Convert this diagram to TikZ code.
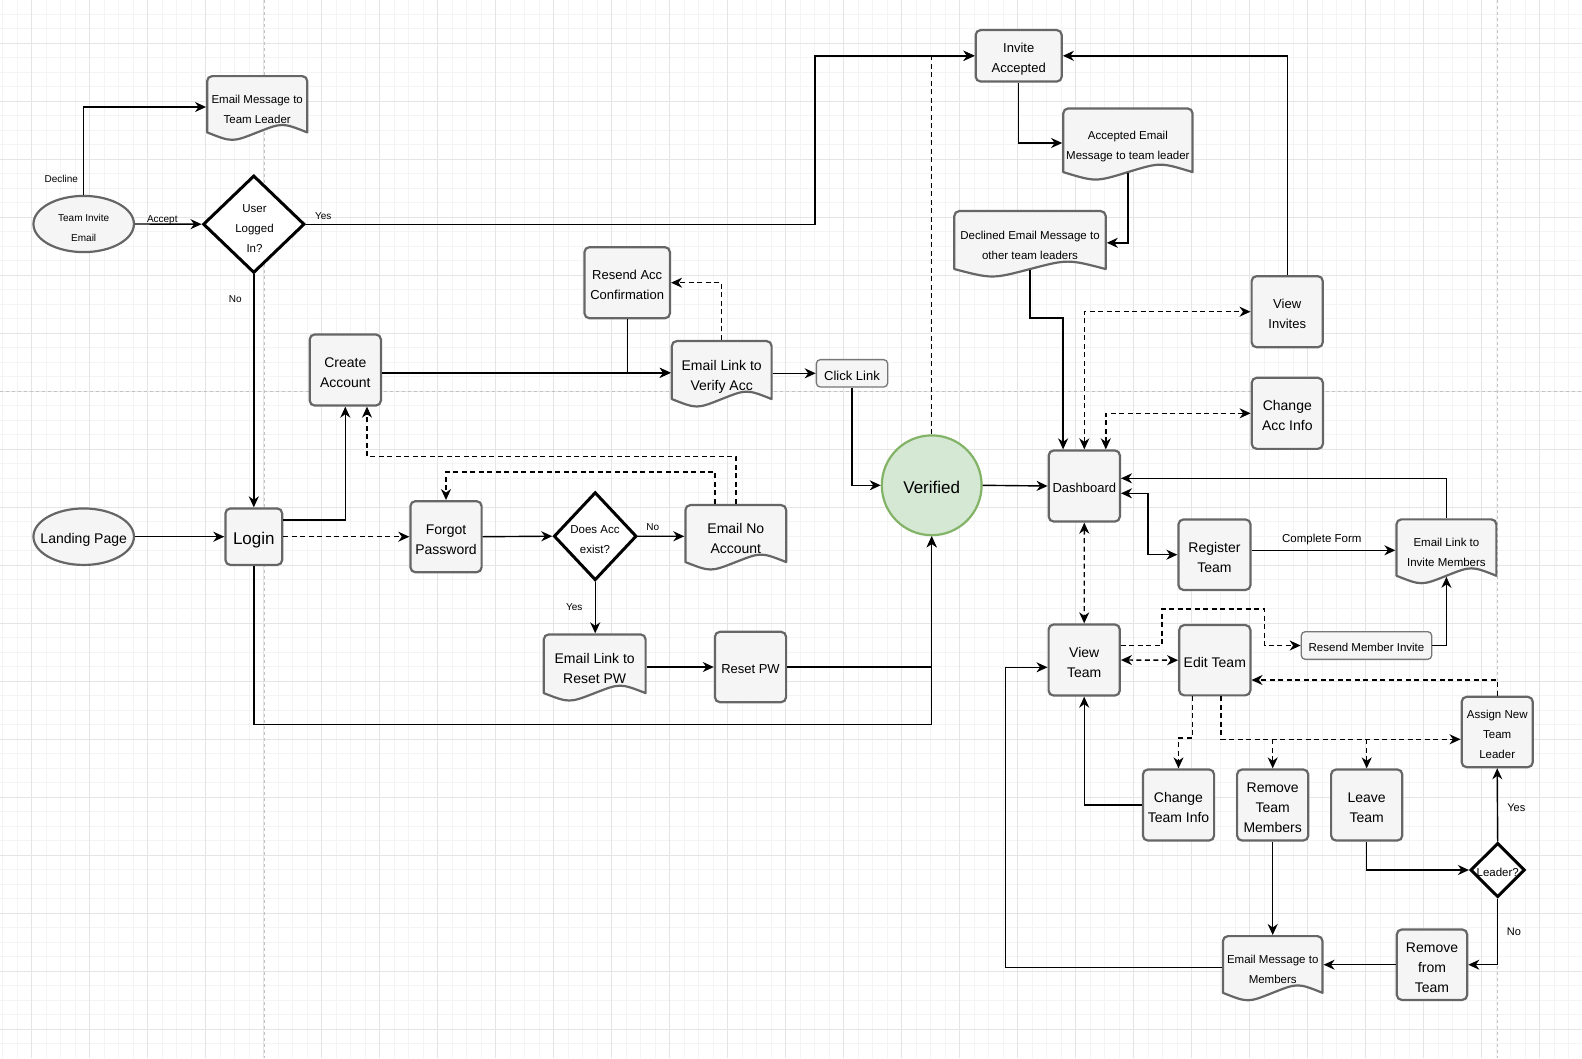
\documentclass[tikz,border=0pt]{standalone}
\usepackage{fontspec}
\setmainfont{Liberation Sans}
\usetikzlibrary{arrows.meta,shapes.geometric,calc}

\pgfdeclarelayer{grid}
\pgfdeclarelayer{shapes}
\pgfsetlayers{grid,shapes,main}

\definecolor{boxfill}{HTML}{F5F5F5}
\definecolor{boxline}{HTML}{666666}
\definecolor{thinline}{HTML}{777777}
\definecolor{okfill}{HTML}{D5E8D4}
\definecolor{okline}{HTML}{82B366}
\definecolor{gridminor}{HTML}{F4F4F4}
\definecolor{gridmajor}{HTML}{E5E5E5}
\definecolor{pagebreak}{HTML}{C2C2C2}

% font size in px with a fixed 20px line pitch
\newcommand\pxfont[1]{\fontsize{#1}{20}\selectfont}

% text block metrics: first-line height, last-line depth, extra lines
\def\vfixH{0pt}
\def\vfixD{0pt}
\def\linesextra{0}

% outline of a document shape: rounded top corners, wavy bottom
\newcommand\docoutline[1]{%
  \path[fill=boxfill, draw=boxline, line width=2.2pt, line join=round]
    let \p1=([xshift=1.1pt,yshift=-1.1pt]#1.north west),
        \p2=([xshift=-1.1pt,yshift=1.1pt]#1.south east) in
    (\x1,\y2+5.5pt) -- (\x1,\y1-5pt)
    .. controls (\x1,\y1-2.24pt) and (\x1+2.24pt,\y1) .. (\x1+5pt,\y1)
    -- (\x2-5pt,\y1)
    .. controls (\x2-2.24pt,\y1) and (\x2,\y1-2.24pt) .. (\x2,\y1-5pt)
    -- (\x2,\y2+5.5pt)
    .. controls ({\x1+0.75*(\x2-\x1)},\y2+15.4pt) .. ({0.5*(\x1+\x2)},\y2+5.5pt)
    .. controls ({\x1+0.25*(\x2-\x1)},\y2-4.4pt) .. (\x1,\y2+5.5pt)
    -- cycle;}

\tikzset{
  >={Stealth[length=11pt,width=10pt,inset=3.5pt]},
  % fixed text block height and depth, so text sits at a set level
  vfix/.style 2 args={/utils/exec={\def\vfixH{#1}\def\vfixD{#2}},
    execute at begin node={\rule{0pt}{\dimexpr\vfixH+\linesextra pt\relax}},
    execute at end node={\rule[-\vfixD]{0pt}{0pt}}},
  lines/.code={\pgfmathsetmacro\linesextra{20*(#1-1)}},
  f115/.style={font={\pxfont{11.5}}, vfix={15pt}{2.5pt}},
  f13/.style={font={\pxfont{13}}, vfix={16.6pt}{2.9pt}},
  f14/.style={font={\pxfont{14}}, vfix={17.7pt}{3.1pt}},
  f17/.style={font={\pxfont{17}}, vfix={18.8pt}{3.7pt}},
  d115/.style={font={\pxfont{11.5}}, vfix={15pt}{2.5pt}},
  d14/.style={font={\pxfont{14}}, vfix={17.5pt}{3.1pt}},
  box/.style={rectangle, rounded corners=5pt, fill=boxfill, draw=boxline,
    line width=2.2pt, inner sep=0pt, align=center, f14, lines=2,
    minimum width=71.2pt, minimum height=71.1pt},
  thinbox/.style={rectangle, rounded corners=4pt, fill=boxfill, draw=thinline,
    line width=1.3pt, inner sep=0pt, align=center, lines=1},
  docnode/.style={rectangle, inner sep=0pt, outer sep=1.1pt, align=center, d115, lines=2},
  ellip/.style={ellipse, fill=boxfill, draw=boxline, line width=2.2pt,
    inner sep=0pt, minimum width=100.5pt, minimum height=56.2pt},
  diam/.style={diamond, fill=white, draw=black, line width=3pt, inner sep=0pt},
  okcircle/.style={circle, fill=okfill, draw=okline, line width=2.2pt,
    minimum size=99.8pt, inner sep=0pt, font={\pxfont{17}}, vfix={19.8pt}{3.7pt}, lines=1},
  txt/.style={inner sep=0pt, align=center},
  lbl/.style={inner sep=0pt, font={\pxfont{10}}},
  conn/.style={line width=1.4pt, ->},
  dashline/.style={dash pattern=on 5pt off 3.5pt},
}

\begin{document}
\begin{tikzpicture}[x=1pt,y=-1pt]
\useasboundingbox (0,0) rectangle (1582,1058);

% ---------- canvas grid ----------
\begin{pgfonlayer}{grid}
  \fill[white] (0,0) rectangle (1582,1058);
  \foreach \i in {0,...,108}
    \draw[gridminor, line width=0.8pt] ({2.7+14.5*\i},0) -- ({2.7+14.5*\i},1058);
  \foreach \i in {0,...,71}
    \draw[gridminor, line width=0.8pt] (0,{14.3+14.5*\i}) -- (1582,{14.3+14.5*\i});
  \foreach \i in {0,...,26}
    \draw[gridmajor, line width=0.9pt] ({31.7+58*\i},0) -- ({31.7+58*\i},1058);
  \foreach \i in {0,...,17}
    \draw[gridmajor, line width=0.9pt] (0,{43.3+58*\i}) -- (1582,{43.3+58*\i});
  \draw[pagebreak, line width=0.9pt, dash pattern=on 3pt off 3pt]
    (264.3,0) -- (264.3,1058)
    (1497.3,0) -- (1497.3,1058)
    (0,391) -- (1582,391);
\end{pgfonlayer}

% ---------- entry points ----------
\node[ellip] (invite) at (83.7,224) {};
\node[txt, font={\pxfont{10}}] (invitetxt) at (83.7,227.5) {Team Invite\\Email};
\node[ellip, minimum height=56.5pt] (landing) at (83.7,536.7) {};
\node[txt, font={\pxfont{14}}] (landingtxt) at (83.7,539.5) {Landing Page};

\node[docnode, minimum width=100.1pt, minimum height=61.8pt] (emtl) at (257.2,107) {Email Message to\\Team Leader};

\node[diam, minimum width=101.5pt, minimum height=97.5pt] (logged) at (253.8,224.2) {};
\node[txt, font={\pxfont{11.5}}] (loggedtxt) at (254.5,228.3) {User\\Logged\\In?};

% ---------- login and account ----------
\node[box, minimum width=56.8pt, minimum height=56.5pt, f17, lines=1] (login) at (253.8,536.7) {Login};
\node[box] (create) at (345.3,370) {Create\\Account};
\node[box] (forgot) at (446,536.7) {Forgot\\Password};
\node[box, minimum width=85.5pt, f13] (resendacc) at (627.2,282.7) {Resend Acc\\Confirmation};
\node[docnode, minimum width=99.8pt, minimum height=63.5pt, d14] (verify) at (721.7,372.8) {Email Link to\\Verify Acc};
\node[thinbox, minimum width=71.3pt, minimum height=27.4pt, f13] (click) at (852,373.3) {Click Link};

\node[diam, minimum width=82.8pt, minimum height=88.1pt] (doesacc) at (595.2,536.2) {};
\node[txt, font={\pxfont{11.5}}] (doesacctxt) at (595,539.8) {Does Acc\\exist?};
\node[docnode, minimum width=100.8pt, minimum height=62.5pt, d14] (noacc) at (735.8,536.3) {Email No\\Account};
\node[docnode, minimum width=101.8pt, minimum height=64.2pt, d14] (resetlink) at (594.7,666.5) {Email Link to\\Reset PW};
\node[box, minimum height=70.4pt, f13, lines=1] (resetpw) at (750.5,667) {Reset PW};

\node[okcircle] (verified) at (931.7,485.3) {Verified};

% ---------- invitations ----------
\node[box, minimum width=86.1pt, minimum height=51.5pt, f13] (invacc) at (1018.7,55.8) {Invite\\Accepted};
\node[docnode, minimum width=129.3pt, minimum height=69.2pt] (accemail) at (1127.9,143) {Accepted Email\\Message to team leader};
\node[docnode, minimum width=151.4pt, minimum height=63.5pt] (declemail) at (1030,242.8) {Declined Email Message to\\other team leaders};
\node[box, f13] (viewinv) at (1287.2,311.7) {View\\Invites};
\node[box] (changeacc) at (1287.3,413.3) {Change\\Acc Info};

% ---------- dashboard and teams ----------
\node[box, f13, lines=1] (dash) at (1084.3,486) {Dashboard};
\node[box, minimum width=72.1pt, minimum height=70.5pt] (regteam) at (1214.5,554.7) {Register\\Team};
\node[docnode, minimum width=99.9pt, minimum height=61.9pt] (invmem) at (1446.4,550.3) {Email Link to\\Invite Members};
\node[box] (viewteam) at (1084.2,660) {View\\Team};
\node[box, minimum height=70.3pt, lines=1] (editteam) at (1214.8,660.2) {Edit Team};
\node[thinbox, minimum width=130.4pt, minimum height=27.7pt, f115] (resendmem) at (1366.5,645.5) {Resend Member Invite};
\node[box, minimum width=71.1pt, minimum height=70.4pt, f115, lines=3] (assign) at (1497.2,732) {Assign New\\Team\\Leader};
\node[box] (changeteam) at (1178.5,805) {Change\\Team Info};
\node[box, lines=3] (removemem) at (1272.7,805) {Remove\\Team\\Members};
\node[box] (leave) at (1366.7,805) {Leave\\Team};
\node[diam, minimum width=54.5pt, minimum height=54.4pt] (leader) at (1497.7,870) {};
\node[txt, font={\pxfont{11.5}}] (leadertxt) at (1497.7,872) {Leader?};
\node[box, minimum width=70.4pt, minimum height=70.5pt, lines=3] (removefrom) at (1432,964.7) {Remove\\from\\Team};
\node[docnode, minimum width=99.6pt, minimum height=62.2pt] (emmem) at (1272.7,967.2) {Email Message to\\Members};

% ---------- document outlines ----------
\begin{pgfonlayer}{shapes}
  \docoutline{emtl}
  \docoutline{verify}
  \docoutline{noacc}
  \docoutline{resetlink}
  \docoutline{accemail}
  \docoutline{declemail}
  \docoutline{invmem}
  \docoutline{emmem}
\end{pgfonlayer}

% ---------- connectors: invitation email ----------
\draw[conn] (invite.east) -- (logged.west);
\draw[conn] (invite.north) |- (emtl.west);
\draw[conn] (logged.east) -| ([xshift=-159.6pt]invacc.west) -- (invacc.west);
\draw[conn] (logged.south) -- (login.north);

% ---------- connectors: login and account ----------
\draw[conn] (landing.east) -- (login.west);
\draw[conn] ([yshift=16.7pt]login.east) -| (create.south);
\draw[conn, dashline] (login.east) -- (forgot.west);
\draw[conn] (login.south) -- ++(0,158.2) -| (verified.south);
\draw[conn] (create.east |- verify.west) -- (verify.west);
\draw[conn] (resendacc.south) |- (verify.west);
\draw[conn, dashline] (verify.north) |- (resendacc.east);
\draw[conn] (verify.east |- click.west) -- (click.west);
\draw[conn] (click.south) |- (verified.west);
\draw[conn, dashline] (verified.north) |- (invacc.west);
\draw[conn] (verified.east) -- (dash.west);

% ---------- connectors: password reset ----------
\draw[conn] (forgot.east) -- (doesacc.west);
\draw[conn] (doesacc.east) -- (noacc.west);
\draw[conn] (doesacc.south) -- (doesacc.south |- resetlink.north);
\draw[conn] (resetlink.east |- resetpw.west) -- (resetpw.west);
\draw[conn] (resetpw.east) -| (verified.south);
\draw[conn, dashline] ([xshift=-20.8pt]noacc.north) -- ++(0,-32) -| (forgot.north);
\draw[conn, dashline] (noacc.north) -- ++(0,-47.2) -| ([xshift=21.7pt]create.south);

% ---------- connectors: invitations ----------
\draw[conn] (invacc.south) |- (accemail.west);
\draw[conn] ([yshift=5.5pt]accemail.south) |- (declemail.east);
\draw[conn] ([yshift=5.5pt]declemail.south) -- ++(0,48) -| ([xshift=-21.2pt]dash.north);
\draw[conn, dashline, <->] (dash.north) |- (viewinv.west);
\draw[conn, dashline, <->] ([xshift=21.5pt]dash.north) |- (changeacc.west);
\draw[conn] (viewinv.north) |- (invacc.east);

% ---------- connectors: teams ----------
\draw[conn] (invmem.north) |- ([yshift=7.7pt]dash.east);
\draw[conn, <->] ([yshift=-7.3pt]dash.east) -- ++(27.1,0) |- (regteam.west);
\draw[conn] (regteam.east |- invmem.west) -- (invmem.west);
\draw[conn, dashline, <->] (dash.south) -- (viewteam.north);
\draw[conn, dashline, <->] (viewteam.east) -- (editteam.west);
\draw[conn, dashline] ([yshift=14.3pt]viewteam.east) -- ++(41.2,0) -- ++(0,-36.7) -- ++(102.4,0) |- (resendmem.west);
\draw[conn] (resendmem.east) -| ([yshift=5.5pt]invmem.south);
\draw[conn, dashline] (assign.north) |- ([yshift=-19.8pt]editteam.east);
\coordinate (busrail) at ([yshift=-7.3pt]assign.west);
\draw[conn, dashline] ([xshift=-22.5pt]editteam.south) -- ++(0,41.7) -| (changeteam.north);
\draw[conn, dashline] ([xshift=6.2pt]editteam.south) |- (busrail);
\draw[conn, dashline] (removemem.north |- busrail) -- (removemem.north);
\draw[conn, dashline] (leave.north |- busrail) -- (leave.north);
\draw[conn] (changeteam.west) -| (viewteam.south);
\draw[conn] (removemem.south) -- (emmem.north);
\draw[conn] (leave.south) |- (leader.west);
\draw[conn] (leader.north) -- (assign.south);
\draw[conn] (leader.south) |- (removefrom.east);
\draw[conn] (removefrom.west) -- (removefrom.west -| emmem.east);
\draw[conn] (emmem.west) -- ++(-216.4,0) |- ([yshift=-7.3pt]viewteam.west);

% ---------- connector labels ----------
\node[lbl] (lblDecline) at (61.3,178.6) {Decline};
\node[lbl] (lblAccept) at (162.3,219.8) {Accept};
\node[lbl] (lblYesLogged) at (323.3,215.8) {Yes};
\node[lbl] (lblNoLogged) at (235.3,298.8) {No};
\node[lbl] (lblNoAcc) at (652.7,526.8) {No};
\node[lbl] (lblYesAcc) at (574.3,606.8) {Yes};
\node[lbl, font={\pxfont{11.5}}] (lblForm) at (1321.8,539.8) {Complete Form};
\node[lbl, font={\pxfont{11}}] (lblYesLeader) at (1516.3,807.8) {Yes};
\node[lbl, font={\pxfont{11}}] (lblNoLeader) at (1514,931.8) {No};

\end{tikzpicture}
\end{document}
